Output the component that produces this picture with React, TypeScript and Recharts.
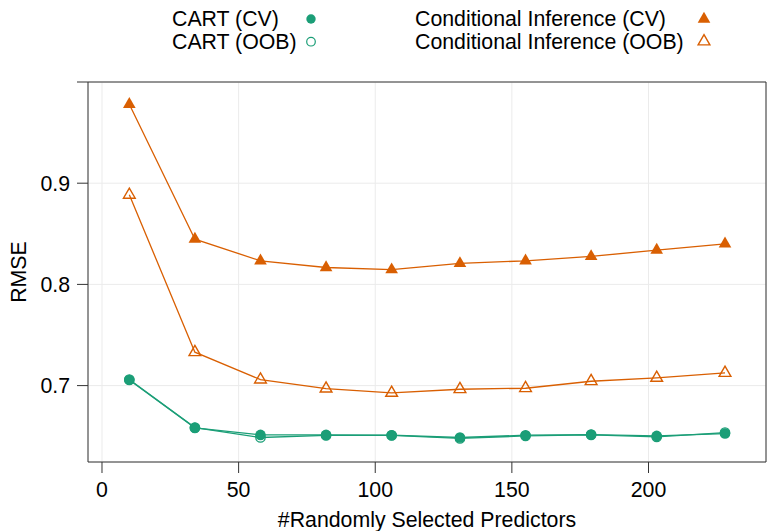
import React from 'react';
import { LineChart, Line, XAxis, YAxis, CartesianGrid } from 'recharts';

const X_VALUES = [10, 34, 58, 82, 106, 131, 155, 179, 203, 228];
const CART_CV = [0.7056, 0.6582, 0.6513, 0.6513, 0.651, 0.6487, 0.651, 0.6516, 0.6503, 0.6526];
const CART_OOB = [0.706, 0.6585, 0.6487, 0.6508, 0.6508, 0.6478, 0.6503, 0.6513, 0.6493, 0.6535];
const CI_CV = [0.978, 0.8447, 0.8233, 0.8167, 0.8145, 0.8207, 0.8233, 0.8276, 0.8339, 0.8401];
const CI_OOB = [0.8885, 0.733, 0.7059, 0.697, 0.6928, 0.6964, 0.6974, 0.7043, 0.7076, 0.7125];

const X_TICKS = [0, 50, 100, 150, 200];
const Y_TICKS = [0.7, 0.8, 0.9, 1.0];
const X_DOMAIN = [-5.12, 243];
const Y_DOMAIN = [0.6245, 1.0];

const X_TITLE = '#Randomly Selected Predictors';
const Y_TITLE = 'RMSE';
const LEGEND_LABELS = ['CART (CV)', 'CART (OOB)', 'Conditional Inference (CV)', 'Conditional Inference (OOB)'];

const GREEN = '#1B9E77';
const ORANGE = '#D95F02';
const FONT = '"Liberation Sans", Arial, Helvetica, sans-serif';
const FS = 21.3;

const rows = X_VALUES.map((x, i) => ({
  x,
  cartCV: CART_CV[i],
  cartOOB: CART_OOB[i],
  ciCV: CI_CV[i],
  ciOOB: CI_OOB[i],
}));

const triPoints = (cx: number, cy: number, r: number) => {
  const hx = r * 0.866;
  return `${cx},${cy - r} ${cx + hx},${cy + r / 2} ${cx - hx},${cy + r / 2}`;
};

const makeDot = (kind: string, color: string) => (p: any) => {
  const { cx, cy, index } = p;
  if (cx == null || cy == null) return <g key={`e-${kind}-${index}`} />;
  if (kind === 'fc') return <circle key={`${kind}-${index}`} cx={cx} cy={cy} r={5.3} fill={color} stroke="none" />;
  if (kind === 'oc') return <circle key={`${kind}-${index}`} cx={cx} cy={cy} r={4.7} fill="none" stroke={color} strokeWidth={1.3} />;
  if (kind === 'ft') return <polygon key={`${kind}-${index}`} points={triPoints(cx, cy, 7.3)} fill={color} stroke="none" />;
  return <polygon key={`${kind}-${index}`} points={triPoints(cx, cy, 6.8)} fill="none" stroke={color} strokeWidth={1.4} />;
};

const yFmt = (v: number) => (Math.abs(v - 1) < 1e-9 ? '' : v.toFixed(1));

const Legend = () => (
  <svg width={770} height={60} style={{ position: 'absolute', left: 0, top: 0, pointerEvents: 'none' }}>
    <g fontFamily={FONT} fontSize={FS} fill="#000">
      <text x={172} y={26}>{LEGEND_LABELS[0]}</text>
      <text x={172} y={49}>{LEGEND_LABELS[1]}</text>
      <text x={415} y={26}>{LEGEND_LABELS[2]}</text>
      <text x={415} y={49}>{LEGEND_LABELS[3]}</text>
    </g>
    <circle cx={311} cy={19} r={4.7} fill={GREEN} />
    <circle cx={311} cy={41.7} r={4.3} fill="none" stroke={GREEN} strokeWidth={1.2} />
    <polygon points={triPoints(704, 19, 7.3)} fill={ORANGE} />
    <polygon points={triPoints(704, 41.5, 6.8)} fill="none" stroke={ORANGE} strokeWidth={1.4} />
  </svg>
);

export default function App() {
  return (
    <div style={{ position: 'absolute', left: 0, top: 0, width: 770, height: 531, background: '#fff', fontFamily: FONT }}>
      <LineChart width={770} height={531} data={rows} margin={{ top: 81, right: 3, bottom: 0, left: 0 }}>
        <CartesianGrid stroke="#ebebeb" strokeWidth={1} />
        <XAxis
          dataKey="x"
          type="number"
          domain={X_DOMAIN}
          ticks={X_TICKS}
          allowDataOverflow
          interval={0}
          height={69}
          tickSize={11}
          tickMargin={9}
          stroke="#333"
          tick={{ fill: '#000', fontSize: FS, fontFamily: FONT }}
          label={{ value: X_TITLE, position: 'insideBottom', offset: 4, fill: '#000', fontSize: FS, fontFamily: FONT }}
        />
        <XAxis
          xAxisId="top"
          orientation="top"
          dataKey="x"
          type="number"
          domain={X_DOMAIN}
          ticks={X_TICKS}
          allowDataOverflow
          interval={0}
          height={1}
          tickSize={11}
          tick={false}
          stroke="#333"
        />
        <YAxis
          type="number"
          domain={Y_DOMAIN}
          ticks={Y_TICKS}
          allowDataOverflow
          interval={0}
          width={88}
          tickSize={11}
          tickMargin={7}
          stroke="#333"
          tickFormatter={yFmt}
          tick={{ fill: '#000', fontSize: FS, fontFamily: FONT }}
          label={{ value: Y_TITLE, angle: -90, position: 'insideLeft', offset: 18, fill: '#000', fontSize: FS, fontFamily: FONT, style: { textAnchor: 'middle' } }}
        />
        <YAxis
          yAxisId="right"
          orientation="right"
          type="number"
          domain={Y_DOMAIN}
          ticks={Y_TICKS}
          allowDataOverflow
          interval={0}
          width={1}
          tickSize={11}
          tick={false}
          stroke="#333"
        />
        <Line dataKey="cartCV" stroke={GREEN} strokeWidth={1.3} dot={makeDot('fc', GREEN)} isAnimationActive={false} />
        <Line dataKey="cartOOB" stroke={GREEN} strokeWidth={1.3} dot={makeDot('oc', GREEN)} isAnimationActive={false} />
        <Line dataKey="ciCV" stroke={ORANGE} strokeWidth={1.3} dot={makeDot('ft', ORANGE)} isAnimationActive={false} />
        <Line dataKey="ciOOB" stroke={ORANGE} strokeWidth={1.3} dot={makeDot('ot', ORANGE)} isAnimationActive={false} />
      </LineChart>
      <Legend />
    </div>
  );
}
